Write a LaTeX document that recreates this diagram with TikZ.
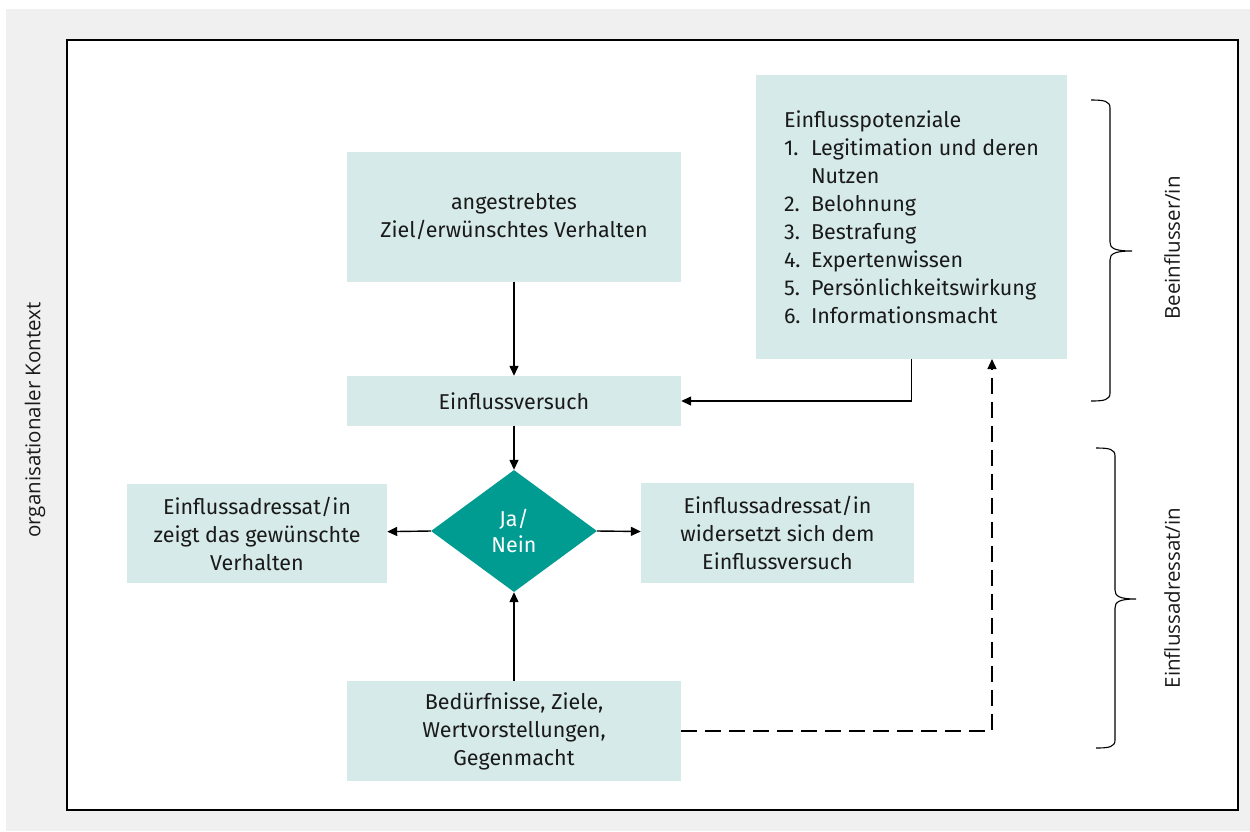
\documentclass[tikz,border=0pt]{standalone}
\usepackage{fontspec}
\setmainfont{Fira Sans}
\newfontfamily\sidefont{Open Sans}
\usetikzlibrary{arrows.meta,shapes.geometric}
\definecolor{boxc}{HTML}{D6EBE9}
\definecolor{diac}{HTML}{009B91}
\definecolor{bgc}{HTML}{F0F0F0}
\definecolor{txt}{HTML}{1A1A1A}
\tikzset{
  bx/.style={rectangle, fill=boxc, inner sep=0pt, align=center, text=txt,
    font=\fontsize{21.5}{28}\selectfont},
  arr/.style={line width=1.4pt, draw=black, -{Triangle[length=10pt,width=9pt]}},
  dsh/.style={arr, dash pattern=on 16pt off 8pt},
  brc/.style={line width=1.1pt, draw=black},
  side/.style={rotate=90, text=txt, font=\sidefont\fontsize{20.5}{24}\selectfont},
}
\newcommand{\numitem}[1]{\makebox[27pt][l]{#1}}
\begin{document}
\begin{tikzpicture}[x=1pt,y=-1pt]
\useasboundingbox (0,0) rectangle (1250,831);
\fill[bgc] (6,9) rectangle (1250,831);
\draw[fill=white, line width=1.4pt] (67,40) rectangle (1238,810);

\node[bx, minimum width=334, minimum height=130] (ziel) at (514,217) {angestrebtes\\Ziel/erwünschtes Verhalten};
\node[bx, minimum width=334, minimum height=50] (vers) at (514,401) {Einflussversuch};
\node[bx, minimum width=260, minimum height=99] (links) at (257,533.5) {Einflussadressat/in\\zeigt das gewünschte\\Verhalten};
\node[bx, minimum width=273, minimum height=100] (rechts) at (777.5,533) {Einflussadressat/in\\widersetzt sich dem\\Einflussversuch};
\node[bx, minimum width=334, minimum height=100] (bed) at (514,731) {Bedürfnisse, Ziele,\\Wertvorstellungen,\\Gegenmacht};
\node[diamond, fill=diac, minimum width=166, minimum height=122, inner sep=0pt,
  text=white, align=center, font=\fontsize{21.5}{26}\selectfont] (dia) at (514,531) {Ja/\\Nein};
\node[bx, minimum width=311, minimum height=284, align=left] (pot) at (911.5,217)
  {Einflusspotenziale\\
   \numitem{1.}Legitimation und deren\\
   \numitem{}Nutzen\\
   \numitem{2.}Belohnung\\
   \numitem{3.}Bestrafung\\
   \numitem{4.}Expertenwissen\\
   \numitem{5.}Persönlichkeitswirkung\\
   \numitem{6.}Informationsmacht};

\draw[arr] (ziel) -- (vers);
\draw[arr] (vers) -- (dia);
\draw[arr] (dia.west) -- (links);
\draw[arr] (dia.east) -- (rechts);
\draw[arr] (bed) -- (dia);
\draw[arr] (pot.south) |- (vers);
\coordinate (dtip) at (992,359);
\draw[dsh] (bed.east) -| (dtip);

% braces
\draw[brc] (1091,100) .. controls (1104,100) and (1110,101) .. (1110,108) -- (1110,242)
  .. controls (1110,248) and (1114,251) .. (1132,251)
  .. controls (1114,251) and (1110,254) .. (1110,260) -- (1110,393)
  .. controls (1110,400) and (1104,401) .. (1091,401);
\draw[brc] (1096,448) .. controls (1109,448) and (1115,449) .. (1115,456) -- (1115,590)
  .. controls (1115,596) and (1119,599) .. (1136,599)
  .. controls (1119,599) and (1115,602) .. (1115,608) -- (1115,740)
  .. controls (1115,747) and (1109,748) .. (1096,748);

\node[side] (lb1) at (1172,248) {Beeinflusser/in};
\node[side] (lb2) at (1172,598) {Einflussadressat/in};
\node[side] (lb3) at (35,420) {organisationaler Kontext};
\end{tikzpicture}
\end{document}
